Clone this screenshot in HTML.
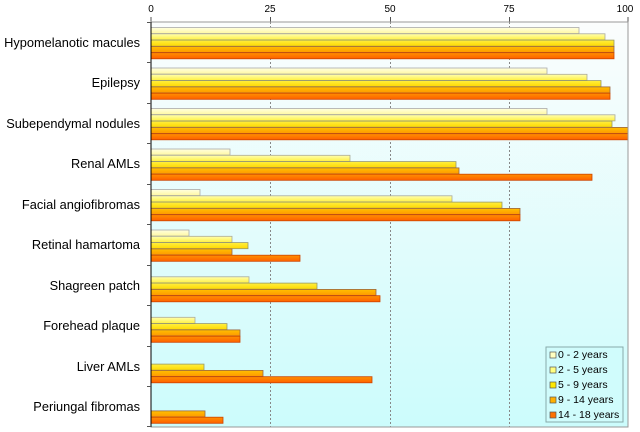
<!DOCTYPE html>
<html><head><meta charset="utf-8"><style>
body{margin:0;background:#fff;}
svg{display:block;font-family:"Liberation Sans",sans-serif;}
</style></head><body>
<svg width="640" height="432" viewBox="0 0 640 432" xmlns="http://www.w3.org/2000/svg">
<defs>
<linearGradient id="bg" x1="0" y1="0" x2="0" y2="1"><stop offset="0" stop-color="#fbfdfd"/><stop offset="1" stop-color="#ccfcfc"/></linearGradient>
<linearGradient id="c0" x1="0" y1="0" x2="0" y2="1"><stop offset="0" stop-color="#ffffe0"/><stop offset="1" stop-color="#fff8a0"/></linearGradient>
<linearGradient id="c1" x1="0" y1="0" x2="0" y2="1"><stop offset="0" stop-color="#ffffb0"/><stop offset="1" stop-color="#fff040"/></linearGradient>
<linearGradient id="c2" x1="0" y1="0" x2="0" y2="1"><stop offset="0" stop-color="#fff040"/><stop offset="1" stop-color="#ffd800"/></linearGradient>
<linearGradient id="c3" x1="0" y1="0" x2="0" y2="1"><stop offset="0" stop-color="#ffc000"/><stop offset="1" stop-color="#ff9800"/></linearGradient>
<linearGradient id="c4" x1="0" y1="0" x2="0" y2="1"><stop offset="0" stop-color="#ff9000"/><stop offset="1" stop-color="#ff6000"/></linearGradient>
</defs>
<rect x="151" y="22" width="477" height="405" fill="url(#bg)"/>
<g stroke="#888" stroke-dasharray="2,2" stroke-width="1">
<line x1="270.5" y1="22" x2="270.5" y2="427"/><line x1="390.5" y1="22" x2="390.5" y2="427"/><line x1="509.5" y1="22" x2="509.5" y2="427"/>
</g>
<g font-size="10" fill="#000" text-anchor="middle">
<text x="151" y="12">0</text><text x="270" y="12">25</text><text x="390" y="12">50</text><text x="509" y="12">75</text><text x="625" y="12">100</text>
</g>
<g stroke="#555" stroke-width="1">
<line x1="151" y1="17" x2="151" y2="22"/><line x1="270.5" y1="17" x2="270.5" y2="22"/><line x1="390.5" y1="17" x2="390.5" y2="22"/><line x1="509.5" y1="17" x2="509.5" y2="22"/><line x1="628" y1="17" x2="628" y2="22"/>
</g>
<g stroke-width="0.8">
<g fill="url(#c0)" stroke="#aaa">
<rect x="151" y="27.5" width="428" height="6.1"/>
<rect x="151" y="68" width="396" height="6.1"/>
<rect x="151" y="108.5" width="396" height="6.1"/>
<rect x="151" y="149" width="79" height="6.1"/>
<rect x="151" y="189.5" width="49" height="6.1"/>
<rect x="151" y="230" width="38" height="6.1"/>
</g>
<g fill="url(#c1)" stroke="#aa9">
<rect x="151" y="33.8" width="454" height="6.1"/>
<rect x="151" y="74.3" width="436" height="6.1"/>
<rect x="151" y="114.8" width="464" height="6.1"/>
<rect x="151" y="155.3" width="199" height="6.1"/>
<rect x="151" y="195.8" width="301" height="6.1"/>
<rect x="151" y="236.3" width="81" height="6.1"/>
<rect x="151" y="276.8" width="98" height="6.1"/>
<rect x="151" y="317.3" width="44" height="6.1"/>
</g>
<g fill="url(#c2)" stroke="#996">
<rect x="151" y="40.1" width="463" height="6.1"/>
<rect x="151" y="80.6" width="450" height="6.1"/>
<rect x="151" y="121.1" width="461" height="6.1"/>
<rect x="151" y="161.6" width="305" height="6.1"/>
<rect x="151" y="202.1" width="351" height="6.1"/>
<rect x="151" y="242.6" width="97" height="6.1"/>
<rect x="151" y="283.1" width="166" height="6.1"/>
<rect x="151" y="323.6" width="76" height="6.1"/>
<rect x="151" y="364.1" width="53" height="6.1"/>
</g>
<g fill="url(#c3)" stroke="#964">
<rect x="151" y="46.4" width="463" height="6.1"/>
<rect x="151" y="86.9" width="459" height="6.1"/>
<rect x="151" y="127.4" width="477" height="6.1"/>
<rect x="151" y="167.9" width="308" height="6.1"/>
<rect x="151" y="208.4" width="369" height="6.1"/>
<rect x="151" y="248.9" width="81" height="6.1"/>
<rect x="151" y="289.4" width="225" height="6.1"/>
<rect x="151" y="329.9" width="89" height="6.1"/>
<rect x="151" y="370.4" width="112" height="6.1"/>
<rect x="151" y="410.9" width="54" height="6.1"/>
</g>
<g fill="url(#c4)" stroke="#c40">
<rect x="151" y="52.7" width="463" height="6.1"/>
<rect x="151" y="93.2" width="459" height="6.1"/>
<rect x="151" y="133.7" width="477" height="6.1"/>
<rect x="151" y="174.2" width="441" height="6.1"/>
<rect x="151" y="214.7" width="369" height="6.1"/>
<rect x="151" y="255.2" width="149" height="6.1"/>
<rect x="151" y="295.7" width="229" height="6.1"/>
<rect x="151" y="336.2" width="89" height="6.1"/>
<rect x="151" y="376.7" width="221" height="6.1"/>
<rect x="151" y="417.2" width="72" height="6.1"/>
</g>
</g>
<rect x="151" y="22" width="477" height="405" fill="none" stroke="#999"/>
<line x1="151" y1="22" x2="151" y2="427" stroke="#000"/>
<g stroke="#555">
<line x1="147" y1="22.5" x2="151" y2="22.5"/><line x1="147" y1="62.5" x2="151" y2="62.5"/><line x1="147" y1="103.5" x2="151" y2="103.5"/><line x1="147" y1="143.5" x2="151" y2="143.5"/><line x1="147" y1="184.5" x2="151" y2="184.5"/><line x1="147" y1="224.5" x2="151" y2="224.5"/><line x1="147" y1="265.5" x2="151" y2="265.5"/><line x1="147" y1="305.5" x2="151" y2="305.5"/><line x1="147" y1="346.5" x2="151" y2="346.5"/><line x1="147" y1="386.5" x2="151" y2="386.5"/><line x1="147" y1="426.5" x2="151" y2="426.5"/>
</g>
<g font-size="12.8" fill="#000" text-anchor="end">
<text x="140" y="47">Hypomelanotic macules</text>
<text x="140" y="87">Epilepsy</text>
<text x="140" y="128">Subependymal nodules</text>
<text x="140" y="168">Renal AMLs</text>
<text x="140" y="209">Facial angiofibromas</text>
<text x="140" y="249">Retinal hamartoma</text>
<text x="140" y="290">Shagreen patch</text>
<text x="140" y="330">Forehead plaque</text>
<text x="140" y="371">Liver AMLs</text>
<text x="140" y="411">Periungal fibromas</text>
</g>
<rect x="546" y="347" width="77" height="75" fill="#d0fcfc" stroke="#8aa"/>
<g font-size="10.5" fill="#000">
<rect x="550" y="352" width="6" height="6" fill="#ffffc0" stroke="#555" stroke-width="0.7"/><text x="558" y="358">0 - 2 years</text>
<rect x="550" y="367" width="6" height="6" fill="#ffff80" stroke="#555" stroke-width="0.7"/><text x="558" y="373">2 - 5 years</text>
<rect x="550" y="382" width="6" height="6" fill="#ffe800" stroke="#555" stroke-width="0.7"/><text x="558" y="388">5 - 9 years</text>
<rect x="550" y="397" width="6" height="6" fill="#ffb000" stroke="#555" stroke-width="0.7"/><text x="558" y="403">9 - 14 years</text>
<rect x="550" y="412" width="6" height="6" fill="#ff7000" stroke="#555" stroke-width="0.7"/><text x="558" y="418">14 - 18 years</text>
</g>
</svg>
</body></html>
